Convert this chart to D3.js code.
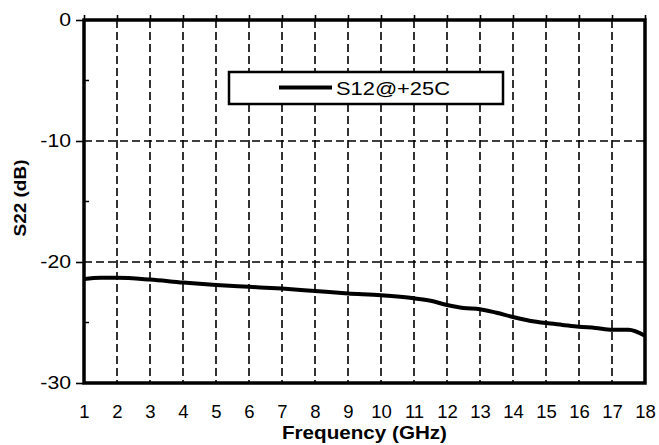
<!DOCTYPE html>
<html>
<head>
<meta charset="utf-8">
<script src="https://cdn.jsdelivr.net/npm/d3@7"></script>
<style>
  body { margin: 0; background: #fff; }
  text { font-family: "Liberation Sans", Arial, sans-serif; }
</style>
</head>
<body>
<div id="figure-div"></div>
<script>
// data
var freqs = [1, 1.5, 2, 3, 4, 5, 6, 7, 8, 9, 10, 11, 11.5, 12, 12.5, 13, 13.5, 14, 14.5, 15, 15.5, 16, 16.5, 17, 17.5, 18];
var s12 = [-21.4, -21.3, -21.3, -21.45, -21.7, -21.9, -22.05, -22.2, -22.4, -22.6, -22.75, -23.0, -23.2, -23.55, -23.8, -23.9, -24.2, -24.55, -24.85, -25.05, -25.2, -25.35, -25.45, -25.6, -25.6, -26.1];
var xTicks = [1, 2, 3, 4, 5, 6, 7, 8, 9, 10, 11, 12, 13, 14, 15, 16, 17, 18];
var yTicks = [0, -10, -20, -30];
var yMinor = [-5, -15, -25];
var seriesName = "S12@+25C";

// the source picture is a bit wider than tall, so stretch text sideways
var stretch = function(sel, k) {
	sel.each(function() {
		var len = this.getComputedTextLength();
		d3.select(this)
			.attr("textLength", len * k)
			.attr("lengthAdjust", "spacingAndGlyphs");
	});
}

var load_figure = function() {
	var w = 659, h = 445;
	var pLeft = 84, pRight = 645, pTop = 20, pBottom = 383;

	var svg = d3.select("#figure-div").append("svg")
		.attr("width", w)
		.attr("height", h);

	var xScale = d3.scaleLinear().domain([1, 18]).range([pLeft, pRight]);
	var yScale = d3.scaleLinear().domain([-30, 0]).range([pBottom, pTop]);

	// grid lines
	svg.selectAll("line.vgrid")
		.data(xTicks.slice(1, -1))
		.enter().append("line")
		.attr("class", "vgrid")
		.attr("x1", function(d) { return xScale(d) })
		.attr("x2", function(d) { return xScale(d) })
		.attr("y1", pTop)
		.attr("y2", pBottom)
		.attr("stroke", "#000")
		.attr("stroke-width", 1.6)
		.attr("stroke-dasharray", "8,4");

	svg.selectAll("line.hgrid")
		.data([-10, -20])
		.enter().append("line")
		.attr("class", "hgrid")
		.attr("x1", pLeft)
		.attr("x2", pRight)
		.attr("y1", function(d) { return yScale(d) })
		.attr("y2", function(d) { return yScale(d) })
		.attr("stroke", "#000")
		.attr("stroke-width", 1.6)
		.attr("stroke-dasharray", "8,4");

	// left axis (plain hyphen, not the unicode minus)
	var yAxis = svg.append("g")
		.attr("transform", "translate(" + pLeft + ",0)")
		.call(d3.axisLeft(yScale).tickValues(yTicks).tickSize(8).tickPadding(5)
			.tickFormat(function(d) { return String(d) }));
	yAxis.select(".domain").remove();
	yAxis.selectAll("line").attr("stroke-width", 1.6);
	yAxis.selectAll("text")
		.style("font-size", "18px")
		.attr("fill", "#000")
		.call(stretch, 1.18);

	// minor ticks inside
	svg.selectAll("line.yminor")
		.data(yMinor)
		.enter().append("line")
		.attr("class", "yminor")
		.attr("x1", pLeft)
		.attr("x2", pLeft + 5)
		.attr("y1", function(d) { return yScale(d) })
		.attr("y2", function(d) { return yScale(d) })
		.attr("stroke", "#000")
		.attr("stroke-width", 1.5);

	// top axis ticks
	svg.append("g")
		.attr("transform", "translate(0," + pTop + ")")
		.call(d3.axisTop(xScale).tickValues(xTicks).tickSize(5).tickFormat(""))
		.call(function(g) { g.select(".domain").remove() })
		.selectAll("line").attr("stroke-width", 1.6);

	// bottom axis labels
	var xAxis = svg.append("g")
		.attr("transform", "translate(0," + pBottom + ")")
		.call(d3.axisBottom(xScale).tickValues(xTicks).tickSize(0).tickPadding(22).tickFormat(d3.format("d")));
	xAxis.select(".domain").remove();
	xAxis.selectAll("text")
		.style("font-size", "18.5px")
		.attr("fill", "#000");

	// frame
	svg.append("rect")
		.attr("x", pLeft)
		.attr("y", pTop)
		.attr("width", pRight - pLeft)
		.attr("height", pBottom - pTop)
		.attr("fill", "none")
		.attr("stroke", "#000")
		.attr("stroke-width", 3.5);

	// curve
	var line = d3.line()
		.x(function(d) { return xScale(d[0]) })
		.y(function(d) { return yScale(d[1]) })
		.curve(d3.curveMonotoneX);

	svg.append("path")
		.datum(freqs.map(function(f, i) { return [f, s12[i]] }))
		.attr("d", line)
		.attr("fill", "none")
		.attr("stroke", "#000")
		.attr("stroke-width", 4);

	// legend
	svg.append("rect")
		.attr("x", 229)
		.attr("y", 72)
		.attr("width", 274)
		.attr("height", 32)
		.attr("fill", "#fff")
		.attr("stroke", "#000")
		.attr("stroke-width", 2.5);
	svg.append("line")
		.attr("x1", 279)
		.attr("x2", 332)
		.attr("y1", 87.5)
		.attr("y2", 87.5)
		.attr("stroke", "#000")
		.attr("stroke-width", 4);
	svg.append("text")
		.attr("x", 336)
		.attr("y", 95)
		.style("font-size", "18.5px")
		.text(seriesName)
		.attr("textLength", 114)
		.attr("lengthAdjust", "spacingAndGlyphs");

	// axis titles
	svg.append("text")
		.attr("transform", "rotate(-90)")
		.attr("x", -198)
		.attr("y", 26)
		.style("text-anchor", "middle")
		.style("font-size", "17px")
		.style("font-weight", "bold")
		.text("S22 (dB)")
		.attr("textLength", 77)
		.attr("lengthAdjust", "spacingAndGlyphs");

	svg.append("text")
		.attr("x", (pLeft + pRight) / 2)
		.attr("y", 439)
		.style("text-anchor", "middle")
		.style("font-size", "17.5px")
		.style("font-weight", "bold")
		.text("Frequency (GHz)")
		.attr("textLength", 165)
		.attr("lengthAdjust", "spacingAndGlyphs");
}

load_figure();
</script>
</body>
</html>
